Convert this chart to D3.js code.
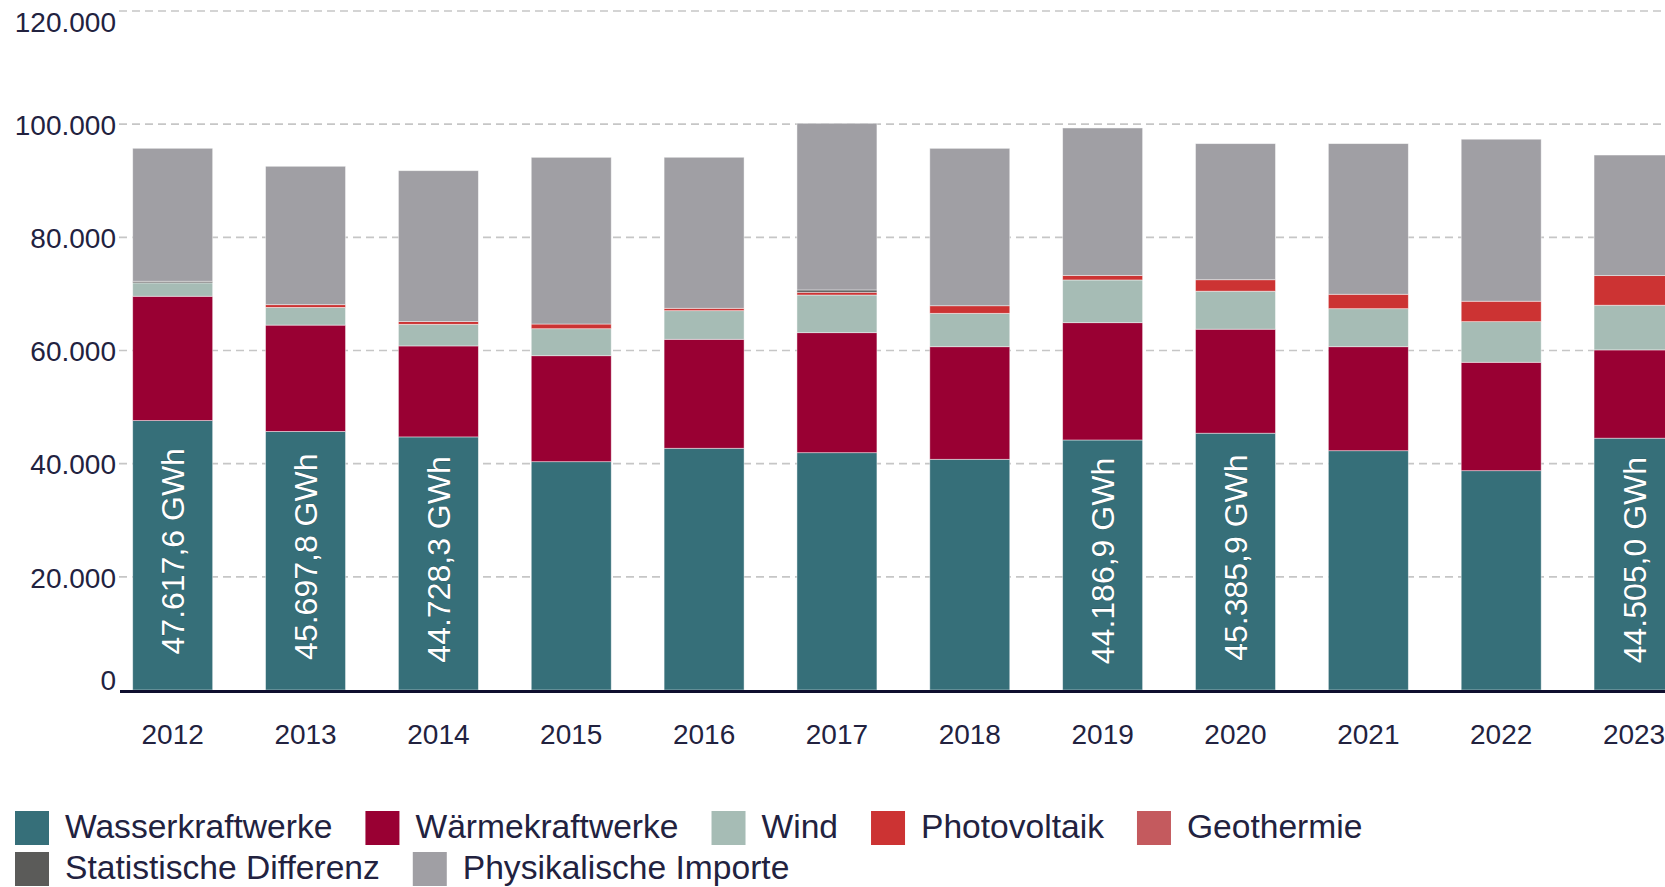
<!DOCTYPE html>
<html>
<head>
<meta charset="utf-8">
<script src="https://cdn.jsdelivr.net/npm/d3@7"></script>
<style>
  html, body { margin: 0; padding: 0; background: #fff; overflow: hidden; }
  svg { display: block; font-family: "Liberation Sans", Arial, sans-serif; }
</style>
</head>
<body>
<svg id="chart" width="1665" height="887"></svg>
<script>
// ---- data (GWh) ----
const years = [2012, 2013, 2014, 2015, 2016, 2017, 2018, 2019, 2020, 2021, 2022, 2023];
const wasserkraftwerke = [47617.6, 45697.8, 44728.3, 40350, 42720, 41940, 40770, 44186.9, 45385.9, 42290, 38760, 44505.0];
const waermekraftwerke = [21970, 18790, 16080, 18730, 19260, 21210, 19900, 20730, 18380, 18380, 19160, 15600];
const wind = [2370, 3130, 3820, 4770, 5060, 6660, 5900, 7550, 6720, 6720, 7180, 7900];
const photovoltaik = [0, 480, 480, 830, 420, 480, 1340, 810, 2020, 2550, 3610, 5230];
const geothermie = [0, 0, 0, 0, 0, 0, 0, 0, 0, 0, 0, 0];
const statistischeDifferenz = [280, 0, 0, 0, 0, 410, 0, 0, 0, 0, 0, 0];
const physikalischeImporte = [23500, 24460, 26670, 29460, 26690, 29460, 27820, 26050, 24050, 26620, 28630, 21310];
const labelledYears = [2012, 2013, 2014, 2019, 2020, 2023];
const yTicks = [0, 20000, 40000, 60000, 80000, 100000, 120000];

const seriesNames = ["Wasserkraftwerke", "Wärmekraftwerke", "Wind", "Photovoltaik", "Geothermie", "Statistische Differenz", "Physikalische Importe"];
const seriesValues = [wasserkraftwerke, waermekraftwerke, wind, photovoltaik, geothermie, statistischeDifferenz, physikalischeImporte];
const seriesColors = ["#366f79", "#990033", "#a6bcb5", "#cc3333", "#c45a5e", "#5b5b59", "#a09fa4"];

// ---- build table ----
const keys = seriesNames;
const table = years.map((yr, i) => {
  const row = { year: yr };
  keys.forEach((k, j) => row[k] = seriesValues[j][i]);
  return row;
});
const stacked = d3.stack().keys(keys)(table);

const de = d3.formatLocale({ decimal: ",", thousands: ".", grouping: [3], currency: ["", "€"] });
const fmtTick = de.format(",.0f");
const fmtVal = de.format(",.1f");

const svg = d3.select("#chart");
const textColor = "#22223f";

// scales
const n = years.length;
const pIn = 0.398, pOut = 0.0956, step = 132.85;
const x = d3.scaleBand().domain(years)
  .range([120, 120 + step * (n - pIn + 2 * pOut)])
  .paddingInner(pIn).paddingOuter(pOut);
const y = d3.scaleLinear().domain([0, 120000]).range([690, 11]);

// gridlines
svg.append("g").selectAll("line").data(yTicks.filter(d => d > 0)).join("line")
  .attr("x1", 119).attr("x2", 1700)
  .attr("y1", d => y(d)).attr("y2", d => y(d))
  .attr("stroke", "#c6c6c6").attr("stroke-width", 1.6)
  .attr("stroke-dasharray", "8,5");

// y axis labels
const yAxis = d3.axisLeft(y).tickValues(yTicks).tickSize(0).tickPadding(0).tickFormat(fmtTick);
const gy = svg.append("g").attr("transform", "translate(116,0)").call(yAxis);
gy.select(".domain").remove();
gy.selectAll("text")
  .attr("font-size", 28).attr("fill", textColor)
  .attr("font-family", "'Liberation Sans', Arial, sans-serif")
  .attr("dy", null)
  .attr("y", d => d === 0 ? -1 : (d === 120000 ? 20.5 : 10.2))
  .attr("x", 0);

// bars
const layer = svg.append("g").selectAll("g").data(stacked).join("g")
  .attr("fill", (d, i) => seriesColors[i]);
layer.selectAll("rect").data(d => d).join("rect")
  .attr("x", d => x(d.data.year))
  .attr("width", x.bandwidth())
  .attr("y", d => y(d[1]))
  .attr("height", d => Math.max(0, y(d[0]) - y(d[1])))
  .attr("stroke", "#ffffff").attr("stroke-opacity", 0.55).attr("stroke-width", 0.8);

// value labels (Wasserkraftwerke)
const labelData = stacked[0].filter(d => labelledYears.includes(d.data.year));
svg.append("g").selectAll("text").data(labelData).join("text")
  .attr("transform", d => {
    const cx = x(d.data.year) + x.bandwidth() / 2;
    const cy = (y(d[0]) + y(d[1])) / 2 - 4;
    return `translate(${cx},${cy}) rotate(-90)`;
  })
  .attr("text-anchor", "middle").attr("dy", "0.36em")
  .attr("font-size", 32).attr("fill", "#ffffff")
  .attr("stroke", "#2a5058").attr("stroke-width", 0.6).attr("paint-order", "stroke")
  .text(d => fmtVal(d.data["Wasserkraftwerke"]) + " GWh");

// x axis line
svg.append("line").attr("x1", 120).attr("x2", 1700)
  .attr("y1", 691.5).attr("y2", 691.5)
  .attr("stroke", "#0f0f2e").attr("stroke-width", 3);

// x axis labels
const xAxis = d3.axisBottom(x).tickSize(0).tickPadding(0);
const gx = svg.append("g").attr("transform", "translate(0,744)").call(xAxis);
gx.select(".domain").remove();
gx.selectAll("text")
  .attr("font-size", 28).attr("fill", textColor)
  .attr("font-family", "'Liberation Sans', Arial, sans-serif")
  .attr("dy", null).attr("y", 0);

// legend
const legend = svg.append("g");
let lx = 15, row = 0;
const rowBase = [811, 852];
seriesNames.forEach((name, i) => {
  const g = legend.append("g");
  const t = g.append("text").attr("font-size", 33.6).attr("fill", textColor).text(name);
  const tw = t.node().getComputedTextLength();
  if (lx + 50 + tw > 1650) { row += 1; lx = 15; }
  const top = rowBase[row];
  g.append("rect").attr("x", lx).attr("y", top).attr("width", 34).attr("height", 34)
    .attr("fill", seriesColors[i]);
  t.attr("x", lx + 50).attr("y", top + 27);
  lx += 50 + tw + 33;
});
</script>
</body>
</html>
